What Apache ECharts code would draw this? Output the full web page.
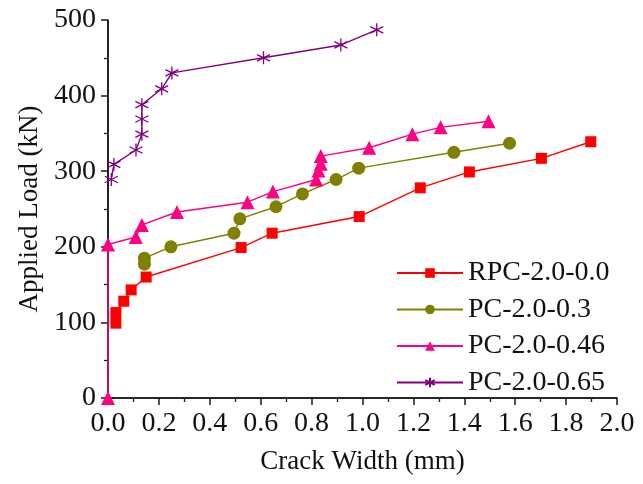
<!DOCTYPE html>
<html>
<head>
<meta charset="utf-8">
<script src="https://cdn.jsdelivr.net/npm/echarts@6/dist/echarts.min.js"></script>
<style>
  html, body { margin: 0; padding: 0; background: #fff; }
  #chart { width: 643px; height: 484px; }
</style>
</head>
<body>
<div id="chart"></div>
<script>
// Crack width (mm) vs applied load (kN) for each specimen
const seriesNames = ['RPC-2.0-0.0', 'PC-2.0-0.3', 'PC-2.0-0.46', 'PC-2.0-0.65'];

const rpc00Width = [0.031, 0.031, 0.062, 0.091, 0.150, 0.523, 0.645, 0.987, 1.227, 1.420, 1.703, 1.897];
const rpc00Load  = [99, 113, 128, 143, 160, 199, 218, 240, 278, 299, 317, 339];

const pc03Width = [0.143, 0.143, 0.247, 0.495, 0.518, 0.660, 0.764, 0.896, 0.985, 1.359, 1.578];
const pc03Load  = [177, 185, 200, 218, 237, 253, 270, 289, 304, 325, 337];

const pc046Width = [0.000, 0.000, 0.109, 0.133, 0.271, 0.548, 0.648, 0.818, 0.827, 0.836, 0.836, 1.026, 1.196, 1.307, 1.495];
const pc046Load  = [0, 203, 213, 229, 246, 259, 273, 289, 301, 310, 320, 331, 349, 358, 366];

const pc065Width = [0.013, 0.023, 0.110, 0.133, 0.133, 0.133, 0.211, 0.251, 0.611, 0.915, 1.056];
const pc065Load  = [289, 309, 328, 349, 369, 388, 409, 430, 450, 467, 487];

const xTicks = { min: 0, max: 2, step: 0.2 };
const yTicks = { min: 0, max: 500, step: 100 };

const colors = ['#ff0000', '#808000', '#ff0080', '#800080'];
const FONT = '"Liberation Serif", "Times New Roman", serif';
const AXIS_COLOR = '#1a1a1a';

function pairs(xs, ys) {
  return xs.map((x, i) => [x, ys[i]]);
}

// six-ray asterisk, drawn as strokes
const asterisk = 'path://M0,-6L0,6M-5.2,-3L5.2,3M-5.2,3L5.2,-3';

const chart = echarts.init(document.getElementById('chart'), null, { renderer: 'canvas' });

const lineSeries = [
  { name: seriesNames[0], data: pairs(rpc00Width, rpc00Load), symbol: 'rect', symbolSize: 11 },
  { name: seriesNames[1], data: pairs(pc03Width, pc03Load), symbol: 'circle', symbolSize: 13 },
  { name: seriesNames[2], data: pairs(pc046Width, pc046Load), symbol: 'triangle', symbolSize: 14 },
  { name: seriesNames[3], data: pairs(pc065Width, pc065Load), symbol: asterisk, symbolSize: 13 }
].map((s, i) => ({
  type: 'line',
  name: s.name,
  data: s.data,
  symbol: s.symbol,
  symbolSize: s.symbolSize,
  showAllSymbol: true,
  clip: false,
  lineStyle: { color: colors[i], width: 1.4 },
  itemStyle: i === 3
    ? { color: colors[i], borderColor: colors[i], borderWidth: 1.3 }
    : { color: colors[i], borderWidth: 0 },
  z: 2 + i
}));

chart.setOption({
  animation: false,
  color: colors,
  grid: { left: 108, right: 26, top: 20, bottom: 86 },
  legend: {
    orient: 'vertical',
    left: 391,
    top: 254,
    itemWidth: 66,
    itemHeight: 12,
    itemGap: 8.5,
    textStyle: { color: '#111', fontFamily: FONT, fontSize: 28 },
    data: seriesNames
  },
  xAxis: {
    type: 'value',
    min: xTicks.min,
    max: xTicks.max,
    interval: xTicks.step,
    name: 'Crack Width (mm)',
    nameLocation: 'middle',
    nameGap: 50,
    nameTextStyle: { color: '#111', fontFamily: FONT, fontSize: 27 },
    axisLine: { show: true, lineStyle: { color: AXIS_COLOR, width: 1.5 } },
    axisTick: { show: true, length: 7, lineStyle: { color: AXIS_COLOR, width: 1.5 } },
    minorTick: { show: true, splitNumber: 2, length: 4, lineStyle: { color: AXIS_COLOR, width: 1.3 } },
    splitLine: { show: false },
    axisLabel: {
      color: '#111', fontFamily: FONT, fontSize: 28, margin: 12,
      formatter: v => v.toFixed(1)
    }
  },
  yAxis: {
    type: 'value',
    min: yTicks.min,
    max: yTicks.max,
    interval: yTicks.step,
    name: 'Applied Load (kN)',
    nameLocation: 'middle',
    nameGap: 62,
    nameTextStyle: { color: '#111', fontFamily: FONT, fontSize: 27 },
    axisLine: { show: true, lineStyle: { color: AXIS_COLOR, width: 1.5 } },
    axisTick: { show: true, length: 7, lineStyle: { color: AXIS_COLOR, width: 1.5 } },
    minorTick: { show: true, splitNumber: 2, length: 4, lineStyle: { color: AXIS_COLOR, width: 1.3 } },
    splitLine: { show: false },
    axisLabel: { color: '#111', fontFamily: FONT, fontSize: 28, margin: 12 }
  },
  series: lineSeries
});

// Axis lines, placed through the chart's own scales from the axis extents
const origin = chart.convertToPixel({ gridIndex: 0 }, [xTicks.min, yTicks.min]);
const xEnd = chart.convertToPixel({ gridIndex: 0 }, [xTicks.max, yTicks.min]);
const yEnd = chart.convertToPixel({ gridIndex: 0 }, [xTicks.min, yTicks.max]);
const axisLineStyle = { stroke: AXIS_COLOR, lineWidth: 1.6 };
chart.setOption({
  graphic: [
    {
      type: 'line', z: 1, silent: true,
      shape: { x1: origin[0], y1: origin[1], x2: xEnd[0], y2: xEnd[1] },
      style: axisLineStyle
    },
    {
      type: 'line', z: 1, silent: true,
      shape: { x1: origin[0], y1: origin[1], x2: yEnd[0], y2: yEnd[1] },
      style: axisLineStyle
    }
  ]
});
</script>
</body>
</html>
